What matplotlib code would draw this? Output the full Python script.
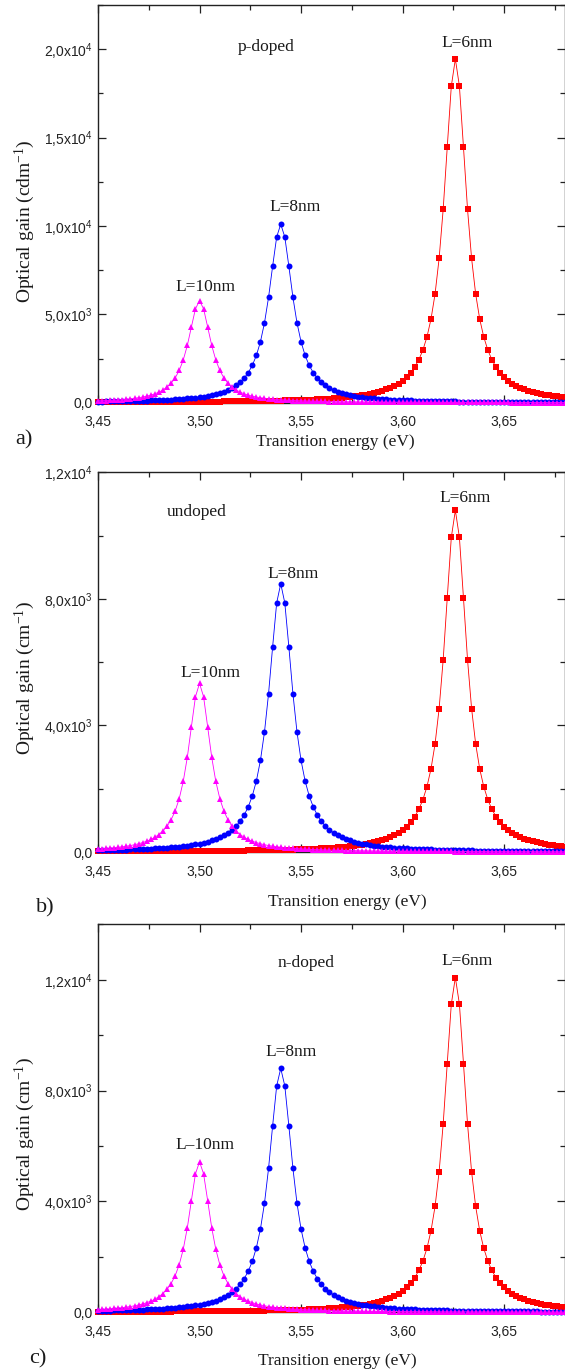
#!/usr/bin/env python3
"""
Optical gain vs transition energy for three well widths
(p-doped, undoped and n-doped), three stacked panels.
"""

import numpy as np
import matplotlib
matplotlib.use("Agg")
import matplotlib.pyplot as plt
from matplotlib.ticker import MultipleLocator, FuncFormatter

plt.rcParams["font.family"] = ["Liberation Sans", "DejaVu Sans"]

# shared energy grid (eV)
energy = [
    3.450, 3.452, 3.454, 3.456, 3.458, 3.460, 3.462, 3.464, 3.466, 3.468,
    3.470, 3.472, 3.474, 3.476, 3.478, 3.480, 3.482, 3.484, 3.486, 3.488,
    3.490, 3.492, 3.494, 3.496, 3.498, 3.500, 3.502, 3.504, 3.506, 3.508,
    3.510, 3.512, 3.514, 3.516, 3.518, 3.520, 3.522, 3.524, 3.526, 3.528,
    3.530, 3.532, 3.534, 3.536, 3.538, 3.540, 3.542, 3.544, 3.546, 3.548,
    3.550, 3.552, 3.554, 3.556, 3.558, 3.560, 3.562, 3.564, 3.566, 3.568,
    3.570, 3.572, 3.574, 3.576, 3.578, 3.580, 3.582, 3.584, 3.586, 3.588,
    3.590, 3.592, 3.594, 3.596, 3.598, 3.600, 3.602, 3.604, 3.606, 3.608,
    3.610, 3.612, 3.614, 3.616, 3.618, 3.620, 3.622, 3.624, 3.626, 3.628,
    3.630, 3.632, 3.634, 3.636, 3.638, 3.640, 3.642, 3.644, 3.646, 3.648,
    3.650, 3.652, 3.654, 3.656, 3.658, 3.660, 3.662, 3.664, 3.666, 3.668,
    3.670, 3.672, 3.674, 3.676, 3.678, 3.680,
]

# a) p-doped
gain_p_10nm = [
    105, 114, 123, 134, 147, 162, 179, 198, 222, 249,
    282, 321, 369, 429, 503, 598, 721, 883, 1101, 1403,
    1824, 2421, 3244, 4287, 5311, 5770, 5311, 4287, 3244, 2421,
    1824, 1403, 1101, 883, 721, 598, 503, 429, 369, 321,
    282, 249, 222, 198, 179, 162, 147, 134, 123, 114,
    105, 97, 90, 84, 78, 73, 69, 65, 61, 57,
    54, 51, 48, 46, 43, 42, 39, 38, 36, 34,
    33, 31, 30, 29, 28, 27, 26, 25, 24, 23,
    22, 21, 20, 20, 19, 18, 18, 17, 17, 16,
    16, 15, 15, 14, 14, 14, 13, 13, 12, 12,
    12, 12, 11, 11, 11, 10, 10, 10, 10, 9,
    9, 9, 9, 9, 8, 8,
]
gain_p_8nm = [
    65, 67, 71, 74, 78, 81, 85, 90, 95, 100,
    106, 112, 119, 126, 134, 143, 154, 165, 177, 190,
    205, 222, 241, 264, 288, 317, 350, 389, 433, 487,
    550, 626, 719, 834, 977, 1158, 1393, 1701, 2113, 2673,
    3448, 4520, 5961, 7718, 9377, 10100, 9377, 7718, 5961, 4520,
    3448, 2673, 2113, 1701, 1393, 1158, 977, 834, 719, 626,
    550, 487, 433, 389, 350, 317, 288, 264, 241, 222,
    205, 190, 177, 165, 154, 143, 134, 126, 119, 112,
    106, 100, 95, 90, 85, 81, 78, 74, 71, 67,
    65, 62, 59, 57, 55, 53, 51, 48, 46, 44,
    43, 41, 40, 38, 37, 36, 35, 34, 33, 32,
    31, 30, 29, 28, 27, 26,
]
gain_p_6nm = [
    29, 30, 30, 31, 32, 33, 33, 34, 35, 36,
    37, 38, 39, 40, 41, 42, 43, 45, 46, 47,
    48, 50, 52, 53, 55, 56, 58, 60, 62, 64,
    67, 69, 71, 74, 77, 80, 83, 86, 89, 93,
    97, 101, 105, 111, 115, 121, 126, 132, 140, 146,
    154, 163, 171, 181, 193, 204, 218, 231, 247, 265,
    282, 303, 327, 354, 383, 416, 453, 496, 547, 603,
    669, 749, 840, 951, 1083, 1245, 1445, 1696, 2015, 2429,
    2976, 3713, 4728, 6150, 8159, 10937, 14449, 17902, 19450, 17902,
    14449, 10937, 8159, 6150, 4728, 3713, 2976, 2429, 2015, 1696,
    1445, 1245, 1083, 951, 840, 749, 669, 603, 547, 496,
    453, 416, 383, 354, 327, 303,
]

# b) undoped
gain_u_10nm = [
    97, 105, 114, 124, 136, 150, 165, 183, 205, 230,
    261, 297, 341, 396, 465, 552, 666, 815, 1017, 1296,
    1685, 2236, 2997, 3960, 4906, 5330, 4906, 3960, 2997, 2236,
    1685, 1296, 1017, 815, 666, 552, 465, 396, 341, 297,
    261, 230, 205, 183, 165, 150, 136, 124, 114, 105,
    97, 90, 83, 77, 72, 68, 63, 60, 56, 53,
    50, 47, 45, 42, 40, 38, 36, 35, 33, 31,
    30, 29, 28, 27, 26, 25, 24, 23, 22, 21,
    20, 20, 19, 18, 18, 17, 17, 16, 15, 15,
    15, 14, 14, 13, 13, 13, 12, 12, 12, 11,
    11, 11, 10, 10, 10, 10, 9, 9, 9, 9,
    9, 8, 8, 8, 8, 8,
]
gain_u_8nm = [
    54, 56, 59, 62, 65, 68, 71, 75, 80, 84,
    89, 94, 100, 106, 113, 120, 129, 138, 148, 159,
    172, 187, 203, 221, 242, 266, 294, 326, 364, 409,
    462, 526, 604, 700, 820, 973, 1169, 1428, 1774, 2245,
    2895, 3795, 5005, 6480, 7873, 8480, 7873, 6480, 5005, 3795,
    2895, 2245, 1774, 1428, 1169, 973, 820, 700, 604, 526,
    462, 409, 364, 326, 294, 266, 242, 221, 203, 187,
    172, 159, 148, 138, 129, 120, 113, 106, 100, 94,
    89, 84, 80, 75, 71, 68, 65, 62, 59, 56,
    54, 52, 49, 47, 46, 44, 42, 41, 39, 37,
    36, 35, 34, 32, 31, 31, 30, 29, 28, 27,
    26, 25, 25, 24, 23, 22,
]
gain_u_6nm = [
    16, 16, 17, 17, 18, 18, 19, 19, 19, 20,
    21, 21, 22, 22, 23, 23, 24, 25, 25, 26,
    27, 28, 29, 29, 30, 31, 32, 33, 35, 36,
    37, 38, 40, 41, 43, 44, 46, 48, 50, 52,
    54, 56, 58, 62, 64, 67, 70, 73, 78, 81,
    85, 91, 95, 100, 107, 113, 121, 129, 137, 147,
    157, 168, 181, 197, 213, 231, 252, 275, 303, 335,
    372, 416, 467, 528, 602, 691, 802, 942, 1119, 1349,
    1652, 2062, 2625, 3415, 4531, 6073, 8023, 9940, 10800, 9940,
    8023, 6073, 4531, 3415, 2625, 2062, 1652, 1349, 1119, 942,
    802, 691, 602, 528, 467, 416, 372, 335, 303, 275,
    252, 231, 213, 197, 181, 168,
]

# c) n-doped
gain_n_10nm = [
    99, 107, 116, 127, 138, 153, 168, 187, 209, 235,
    266, 302, 348, 403, 473, 563, 678, 831, 1037, 1320,
    1717, 2278, 3053, 4034, 4998, 5430, 4998, 4034, 3053, 2278,
    1717, 1320, 1037, 831, 678, 563, 473, 403, 348, 302,
    266, 235, 209, 187, 168, 153, 138, 127, 116, 107,
    99, 91, 85, 79, 74, 69, 65, 61, 57, 54,
    50, 48, 46, 43, 41, 39, 37, 35, 34, 32,
    31, 29, 28, 27, 26, 25, 24, 23, 22, 21,
    21, 20, 19, 19, 18, 17, 17, 16, 16, 15,
    15, 14, 14, 14, 13, 13, 12, 12, 12, 11,
    11, 11, 11, 10, 10, 10, 10, 9, 9, 9,
    9, 8, 8, 8, 8, 8,
]
gain_n_8nm = [
    56, 58, 62, 64, 68, 70, 74, 78, 83, 87,
    92, 98, 104, 110, 117, 125, 134, 143, 154, 165,
    179, 194, 210, 230, 251, 276, 305, 339, 378, 424,
    480, 546, 627, 727, 851, 1009, 1214, 1482, 1841, 2329,
    3004, 3938, 5194, 6725, 8170, 8800, 8170, 6725, 5194, 3938,
    3004, 2329, 1841, 1482, 1214, 1009, 851, 727, 627, 546,
    480, 424, 378, 339, 305, 276, 251, 230, 210, 194,
    179, 165, 154, 143, 134, 125, 117, 110, 104, 98,
    92, 87, 83, 78, 74, 70, 68, 64, 62, 58,
    56, 54, 51, 49, 48, 46, 44, 42, 40, 39,
    38, 36, 35, 33, 33, 32, 31, 30, 29, 28,
    27, 26, 26, 25, 24, 23,
]
gain_n_6nm = [
    18, 18, 19, 19, 20, 20, 21, 21, 22, 22,
    23, 24, 24, 25, 25, 26, 27, 28, 28, 29,
    30, 31, 32, 33, 34, 35, 36, 37, 39, 40,
    41, 43, 44, 46, 48, 50, 51, 53, 56, 58,
    60, 63, 65, 69, 71, 75, 79, 82, 87, 91,
    95, 101, 106, 112, 120, 127, 135, 144, 153, 164,
    175, 188, 203, 220, 238, 259, 281, 308, 339, 374,
    416, 465, 522, 591, 673, 773, 898, 1053, 1251, 1509,
    1848, 2306, 2937, 3820, 5068, 6793, 8974, 11118, 12080, 11118,
    8974, 6793, 5068, 3820, 2937, 2306, 1848, 1509, 1251, 1053,
    898, 773, 673, 591, 522, 465, 416, 374, 339, 308,
    281, 259, 238, 220, 203, 188,
]

well_labels = ["L=10nm", "L=8nm", "L=6nm"]
doping_labels = ["p-doped", "undoped", "n-doped"]
panel_letters = ["a)", "b)", "c)"]

SERIF = ["Liberation Serif", "DejaVu Serif"]
TXT = "#1a1a1a"

W, H = 565, 1372


def sci_comma(v, pos):
    """Tick labels like 2,0x10^4 with a decimal comma."""
    if v == 0:
        return "0,0"
    exp = int(np.floor(np.log10(abs(v)) + 1e-9))
    mant = v / 10 ** exp
    return f"{mant:.1f}".replace(".", ",") + r"x10$\mathregular{^{%d}}$" % exp


def comma_x(v, pos):
    return f"{v:.2f}".replace(".", ",")


def px_axes(fig, left, top, right, bottom):
    """Axes from pixel box (top-left origin)."""
    return fig.add_axes([left / W, 1 - bottom / H, (right - left) / W, (bottom - top) / H])


def draw_panel(ax, series, ymax, ymajor, yminor, notes):
    styles = [
        ("#ff0000", "s", 3.7),
        ("#0000ff", "o", 4.3),
        ("#ff00ff", "^", 4.8),
    ]
    # draw 6nm first so the magenta ends up on top, as in the figure
    for gain, (color, marker, ms) in zip(series[::-1], styles):
        ax.plot(energy, gain, color=color, lw=0.6, marker=marker, markersize=ms,
                markeredgewidth=0, clip_on=False, zorder=3)

    ax.set_xlim(3.45, 3.68)
    ax.set_ylim(0, ymax)
    ax.xaxis.set_major_locator(MultipleLocator(0.05))
    ax.xaxis.set_minor_locator(MultipleLocator(0.025))
    ax.yaxis.set_major_locator(MultipleLocator(ymajor))
    ax.yaxis.set_minor_locator(MultipleLocator(yminor))
    ax.xaxis.set_major_formatter(FuncFormatter(comma_x))
    ax.yaxis.set_major_formatter(FuncFormatter(sci_comma))

    ax.tick_params(which="both", direction="in", top=True, right=True,
                   width=0.9, colors="#222222", labelsize=10)
    ax.tick_params(which="major", length=6)
    ax.tick_params(which="minor", length=3.5)
    ax.tick_params(axis="x", pad=9)
    ax.tick_params(axis="y", pad=4)
    for sp in ax.spines.values():
        sp.set_linewidth(1.0)
        sp.set_color("#222222")

    for text, x, y in notes:
        ax.text(x, y, text, ha="center", va="center", fontsize=12.5,
                family=SERIF, color=TXT)


def main():
    fig = plt.figure(figsize=(W / 100, H / 100), dpi=100)

    ax_a = px_axes(fig, 98, 5, 565, 402.7)
    draw_panel(ax_a, [gain_p_10nm, gain_p_8nm, gain_p_6nm], 22500, 5000, 2500, [
        (doping_labels[0], 3.533, 20100),
        (well_labels[2], 3.632, 20370),
        (well_labels[1], 3.547, 11090),
        (well_labels[0], 3.503, 6530),
    ])

    ax_b = px_axes(fig, 98, 472.3, 565, 852)
    draw_panel(ax_b, [gain_u_10nm, gain_u_8nm, gain_u_6nm], 12000, 4000, 2000, [
        (doping_labels[1], 3.4985, 10730),
        (well_labels[2], 3.631, 11190),
        (well_labels[1], 3.546, 8780),
        (well_labels[0], 3.5056, 5670),
    ])

    ax_c = px_axes(fig, 98, 924.3, 565, 1312.3)
    draw_panel(ax_c, [gain_n_10nm, gain_n_8nm, gain_n_6nm], 14000, 4000, 2000, [
        (doping_labels[2], 3.5526, 12610),
        (well_labels[2], 3.632, 12670),
        (well_labels[1], 3.545, 9400),
        ("L\u201310nm", 3.5026, 6050),
    ])

    # axis titles and panel letters, placed in pixels
    def ftext(x, y, s, **kw):
        fig.text(x / W, 1 - y / H, s, ha="center", va="center",
                 family=SERIF, color=TXT, **kw)

    ftext(335, 442, "Transition energy (eV)", fontsize=12.5)
    ftext(347, 902, "Transition energy (eV)", fontsize=12.5)
    ftext(337, 1361, "Transition energy (eV)", fontsize=12.5)

    ftext(25, 221, r"Optical gain (cdm$\mathregular{^{-1}}$)", fontsize=14, rotation=90)
    ftext(25, 678, r"Optical gain (cm$\mathregular{^{-1}}$)", fontsize=14, rotation=90)
    ftext(25, 1134, r"Optical gain (cm$\mathregular{^{-1}}$)", fontsize=14, rotation=90)

    ftext(24, 440, panel_letters[0], fontsize=16)
    ftext(45, 908, panel_letters[1], fontsize=16)
    ftext(38, 1359, panel_letters[2], fontsize=16)

    fig.savefig("out.png", dpi=100)


if __name__ == "__main__":
    main()
